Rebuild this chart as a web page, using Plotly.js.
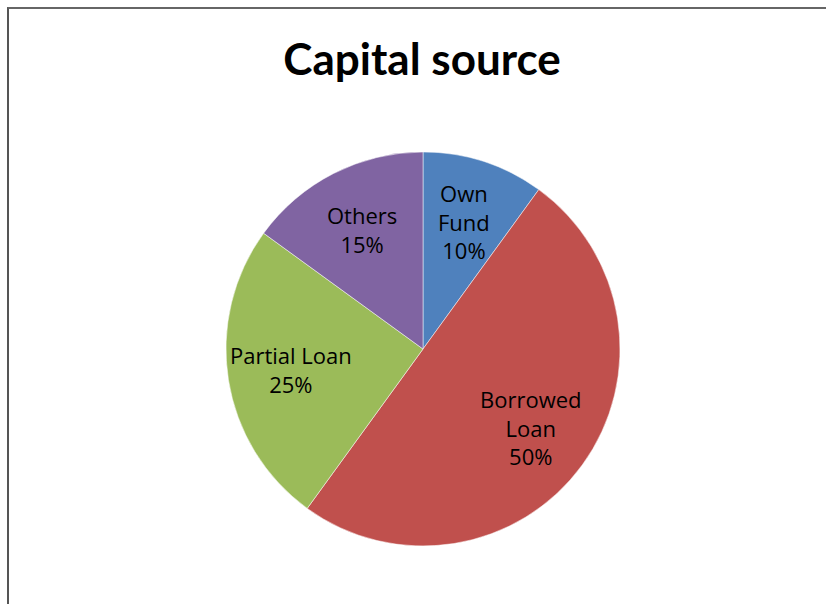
<!DOCTYPE html>
<html>
<head>
<meta charset="utf-8">
<script src="https://cdn.plot.ly/plotly-3.0.1.min.js"></script>
<style>
html,body{margin:0;padding:0;background:#fff;}
#wrap{position:relative;width:826px;height:604px;overflow:hidden;}
#chart{position:absolute;left:0;top:0;width:826px;height:604px;}
#frame{position:absolute;left:7px;top:7px;width:900px;height:700px;border-left:2px solid #555;border-top:2px solid #666;pointer-events:none;}
</style>
</head>
<body>
<div id="wrap">
<div id="chart"></div>
<div id="frame"></div>
</div>
<script>
const categories = ["Own Fund", "Borrowed Loan", "Partial Loan", "Others"];
const displayLabels = ["Own<br>Fund", "Borrowed<br>Loan", "Partial Loan", "Others"];
const shares = [10, 50, 25, 15];
const colors = ["#4F81BD", "#C0504D", "#9BBB59", "#8064A2"];

const W = 826, H = 604;
const domX = [226/W, 620/W], domY = [58/H, 452/H];

const trace = {
  type: "pie",
  labels: categories,
  values: shares,
  textinfo: "none",
  sort: false,
  direction: "clockwise",
  rotation: 0,
  marker: {colors: colors, line: {color: "#ffffff", width: 0.5}},
  hoverinfo: "label+percent",
  showlegend: false,
  domain: {x: domX, y: domY}
};

// label positions derived from the slice values (mid-angle, fraction of radius)
const total = shares.reduce((a, b) => a + b, 0);
const cx = (domX[0] + domX[1]) / 2 * W, cy = (domY[0] + domY[1]) / 2 * H;
const R = (domX[1] - domX[0]) * W / 2;
const labelRadius = 0.68;
let cum = 0;
const annotations = shares.map((v, i) => {
  const mid = (cum + v / 2) / total * 2 * Math.PI;
  cum += v;
  const px = cx + labelRadius * R * Math.sin(mid);
  const py = cy + labelRadius * R * Math.cos(mid);
  return {
    xref: "paper", yref: "paper", x: px / W, y: py / H,
    xanchor: "center", yanchor: "middle", showarrow: false, align: "center",
    text: displayLabels[i] + "<br>" + Math.round(v / total * 100) + "%",
    font: {family: "'Open Sans', Lato, sans-serif", size: 22, color: "#000"}
  };
});

const layout = {
  width: W, height: H,
  margin: {l: 0, r: 0, t: 0, b: 0},
  paper_bgcolor: "rgba(0,0,0,0)",
  plot_bgcolor: "rgba(0,0,0,0)",
  showlegend: false,
  annotations: annotations,
  title: {text: "<b>Capital source</b>", x: 0.511, xanchor: "center", y: 1 - 60/H, yanchor: "middle",
          font: {family: "Lato, 'Open Sans', sans-serif", size: 44, color: "#000"}}
};

Plotly.newPlot("chart", [trace], layout, {displayModeBar: false, staticPlot: true});
</script>
</body>
</html>
